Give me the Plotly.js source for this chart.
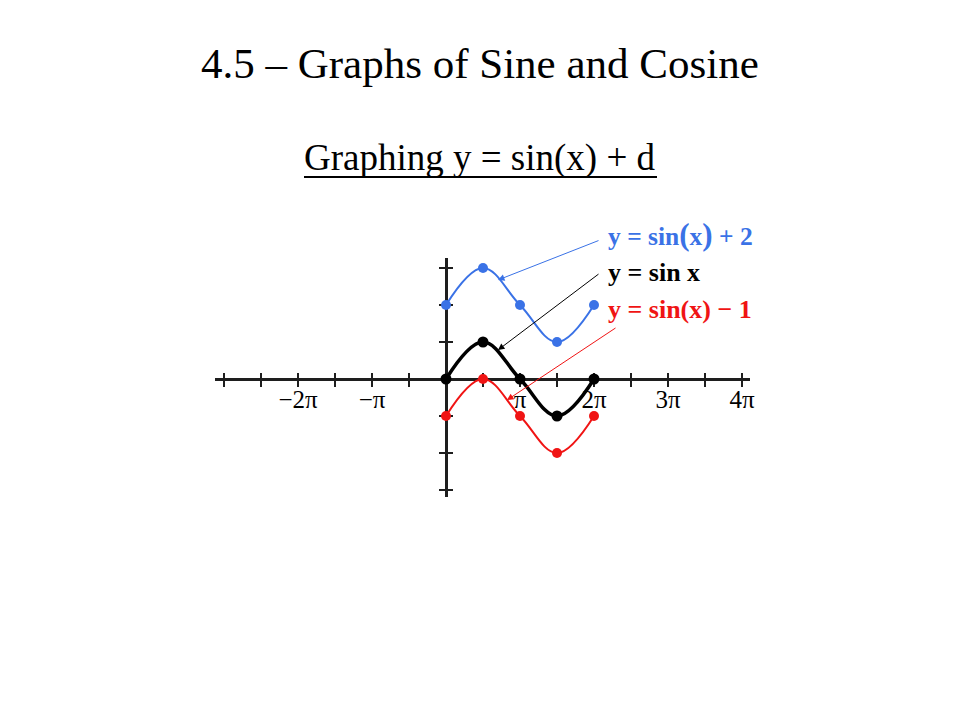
<!DOCTYPE html>
<html><head><meta charset="utf-8">
<script src="https://cdn.plot.ly/plotly-3.0.1.min.js"></script>
<style>html,body{margin:0;padding:0;background:#fff}</style>
</head><body><div id="chart" style="width:960px;height:720px"></div>
<script>
const PI = Math.PI;
// key points of one period (in multiples of pi)
const xKeyPi = [0, 0.5, 1, 1.5, 2];
const ySin = [0, 1, 0, -1, 0];
const ySinPlus2 = [2, 3, 2, 1, 2];
const ySinMinus1 = [-1, 0, -1, -2, -1];
// axis ticks
const xTickPi = [-3, -2.5, -2, -1.5, -1, -0.5, 0, 0.5, 1, 1.5, 2, 2.5, 3, 3.5, 4];
const xTickText = ['', '', '\u22122\u03c0', '', '\u2212\u03c0', '', '', '', '\u03c0', '', '2\u03c0', '', '3\u03c0', '', '4\u03c0'];
const yTicks = [-3, -2, -1, 0, 1, 2, 3];
// labels
const seriesNames = ['y = sin(x) + 2', 'y = sin x', 'y = sin(x) \u2212 1'];

const W = 960, H = 720;
const xRange = [-3.1216 * PI, 4.1081 * PI];
const yRange = [-3.189, 3.270];
const xDom = [215 / W, 750 / W];
const yDom = [(H - 497) / H, (H - 258) / H];
const xZeroFrac = xDom[0] + (0 - xRange[0]) / (xRange[1] - xRange[0]) * (xDom[1] - xDom[0]);
const yZeroFrac = yDom[0] + (0 - yRange[0]) / (yRange[1] - yRange[0]) * (yDom[1] - yDom[0]);

const xKey = xKeyPi.map(v => v * PI);
const BLUE = '#3a72e6', RED = '#f01414', BLACK = '#000000', AX = '#1e1e1e';
const serif = 'Liberation Serif, Times New Roman, serif';

function curve(y, color, lw, ms) {
  return {
    x: xKey, y: y, type: 'scatter', mode: 'lines+markers',
    line: {color: color, width: lw, shape: 'spline', smoothing: 1.1},
    marker: {color: color, size: ms},
    hoverinfo: 'skip', showlegend: false, cliponaxis: false
  };
}

const data = [
  curve(ySinPlus2, BLUE, 2, 10),
  curve(ySinMinus1, RED, 2, 10),
  curve(ySin, BLACK, 3.5, 11)
];

const layout = {
  width: W, height: H,
  margin: {l: 0, r: 0, t: 0, b: 0},
  paper_bgcolor: '#fff', plot_bgcolor: 'rgba(0,0,0,0)',
  showlegend: false,
  xaxis: {
    domain: xDom, range: xRange, anchor: 'free', position: yZeroFrac + 7 / H,
    showgrid: false, showline: false, layer: 'below traces',
    zeroline: true, zerolinecolor: AX, zerolinewidth: 3,
    ticks: 'outside', ticklen: 14, tickwidth: 2.5, tickcolor: AX,
    tickmode: 'array', tickvals: xTickPi.map(v => v * PI), ticktext: xTickText,
    tickfont: {family: serif, size: 25, color: '#000'},
    ticklabelstandoff: -9, fixedrange: true
  },
  yaxis: {
    domain: yDom, range: yRange, anchor: 'free', position: xZeroFrac + 7 / W,
    showgrid: false, showline: false, layer: 'below traces',
    zeroline: true, zerolinecolor: AX, zerolinewidth: 3,
    ticks: 'outside', ticklen: 14, tickwidth: 2.5, tickcolor: AX,
    tickmode: 'array', tickvals: yTicks, showticklabels: false, fixedrange: true
  },
  shapes: [
    {type: 'line', xref: 'paper', yref: 'paper', x0: 304 / W, x1: 657 / W, y0: 1 - 177 / H, y1: 1 - 177 / H,
     line: {color: '#000', width: 2}}
  ],
  annotations: [
    {text: '4.5 \u2013 Graphs of Sine and Cosine', xref: 'paper', yref: 'paper', x: 0.5, y: 1 - 63 / H,
     xanchor: 'center', yanchor: 'middle', showarrow: false, font: {family: serif, size: 43, color: '#000'}},
    {text: 'Graphing y = sin(x) + d', xref: 'paper', yref: 'paper', x: 0.5, y: 1 - 158 / H,
     xanchor: 'center', yanchor: 'middle', showarrow: false, font: {family: serif, size: 37, color: '#000'}},
    {text: '<b>y = sin<span style="font-size:31px">(</span>x<span style="font-size:31px">)</span> + 2</b>', xref: 'paper', yref: 'paper', x: 606 / W, y: 1 - 235 / H,
     xanchor: 'left', yanchor: 'middle', showarrow: false, font: {family: serif, size: 25.5, color: BLUE}},
    {text: '<b>' + seriesNames[1] + '</b>', xref: 'paper', yref: 'paper', x: 606 / W, y: 1 - 272 / H,
     xanchor: 'left', yanchor: 'middle', showarrow: false, font: {family: serif, size: 26, color: BLACK}},
    {text: '<b>' + seriesNames[2] + '</b>', xref: 'paper', yref: 'paper', x: 606 / W, y: 1 - 309 / H,
     xanchor: 'left', yanchor: 'middle', showarrow: false, font: {family: serif, size: 26, color: RED}},
    {text: '', xref: 'x', yref: 'y', x: 0.7027 * PI, y: 2.676, ax: 102, ay: -40,
     showarrow: true, arrowhead: 2, arrowsize: 1.3, arrowwidth: 1, arrowcolor: BLUE},
    {text: '', xref: 'x', yref: 'y', x: 0.7027 * PI, y: 0.784, ax: 102, ay: -77,
     showarrow: true, arrowhead: 2, arrowsize: 1.3, arrowwidth: 1, arrowcolor: BLACK},
    {text: '', xref: 'x', yref: 'y', x: 0.8243 * PI, y: -0.568, ax: 110, ay: -73,
     showarrow: true, arrowhead: 2, arrowsize: 1.3, arrowwidth: 1, arrowcolor: RED}
  ]
};

Plotly.newPlot('chart', data, layout, {staticPlot: true, displayModeBar: false});
</script></body></html>
